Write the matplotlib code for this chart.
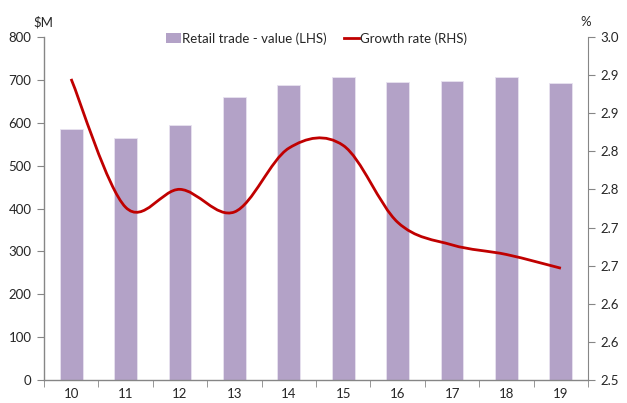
import numpy as np
import matplotlib.pyplot as plt
from matplotlib.path import Path
from matplotlib.patches import PathPatch
from matplotlib.lines import Line2D
from matplotlib.patches import Patch

plt.rcParams['font.family'] = ['Lato', 'DejaVu Sans']

years = ['10', '11', '12', '13', '14', '15', '16', '17', '18', '19']
retail_value = [585, 564, 595, 660, 688, 706, 696, 698, 708, 694]
growth_rate = [2.939, 2.752, 2.778, 2.745, 2.838, 2.842, 2.730, 2.697, 2.683, 2.663]

bar_col = '#B3A2C7'
line_col = '#C00000'
axis_col = '#868686'
text_col = '#262626'


def smooth_path(x, y):
    # Excel style smoothed line (Catmull-Rom -> cubic bezier)
    pts = np.column_stack([x, y])
    verts = [pts[0]]
    codes = [Path.MOVETO]
    n = len(pts)
    for i in range(n - 1):
        p0 = pts[max(i - 1, 0)]
        p1 = pts[i]
        p2 = pts[i + 1]
        p3 = pts[min(i + 2, n - 1)]
        c1 = p1 + (p2 - p0) / 6.0
        c2 = p2 - (p3 - p1) / 6.0
        verts += [c1, c2, p2]
        codes += [Path.CURVE4] * 3
    return Path(verts, codes)


fig = plt.figure(figsize=(6.27, 4.03), dpi=100)
ax = fig.add_axes([0.070, 0.057, 0.868, 0.851])
x = np.arange(len(years))

ax.bar(x, retail_value, width=0.42, color=bar_col, edgecolor='#E8E2F0', linewidth=0.6, zorder=2)
ax.set_xlim(-0.5, len(years) - 0.5)
ax.set_ylim(0, 800)
ax.set_yticks(np.arange(0, 801, 100))
ax.set_xticks(x)
ax.set_xticklabels(years)
ax.set_xticks(np.arange(-0.5, len(years), 1), minor=True)
ax.tick_params(axis='x', which='major', length=0, pad=6, labelsize=9.5, colors=text_col)
ax.tick_params(axis='x', which='minor', length=5, color=axis_col, direction='out')
ax.tick_params(axis='y', length=5, color=axis_col, labelsize=9.5, labelcolor=text_col, pad=4)

for s in ['top', 'right']:
    ax.spines[s].set_visible(False)
for s in ['left', 'bottom']:
    ax.spines[s].set_color(axis_col)
    ax.spines[s].set_linewidth(1.0)

ax2 = ax.twinx()
ax2.set_ylim(2.5, 3.0)
rticks = np.linspace(2.5, 3.0, 10)
ax2.set_yticks(rticks)
ax2.set_yticklabels(['%.1f' % v for v in rticks])
ax2.tick_params(axis='y', length=5, color=axis_col, labelsize=9.5, labelcolor=text_col, pad=4)
for s in ['top', 'left', 'bottom']:
    ax2.spines[s].set_visible(False)
ax2.spines['right'].set_color(axis_col)

patch = PathPatch(smooth_path(x, np.array(growth_rate)), facecolor='none',
                  edgecolor=line_col, linewidth=2.0, zorder=3)
ax2.add_patch(patch)

fig.text(0.069, 0.945, '$M', fontsize=9.5, color=text_col, ha='center', va='center')
fig.text(0.934, 0.945, '%', fontsize=9.5, color=text_col, ha='center', va='center')

handles = [Patch(facecolor=bar_col, edgecolor='none'),
           Line2D([0], [0], color=line_col, linewidth=2)]
fig.legend(handles, ['Retail trade - value (LHS)', 'Growth rate (RHS)'],
           loc='center', bbox_to_anchor=(0.505, 0.905), ncol=2, frameon=False,
           fontsize=9.5, handlelength=1.1, handletextpad=0.1, columnspacing=1.3,
           labelcolor=text_col)

fig.savefig('out.png', dpi=100)
